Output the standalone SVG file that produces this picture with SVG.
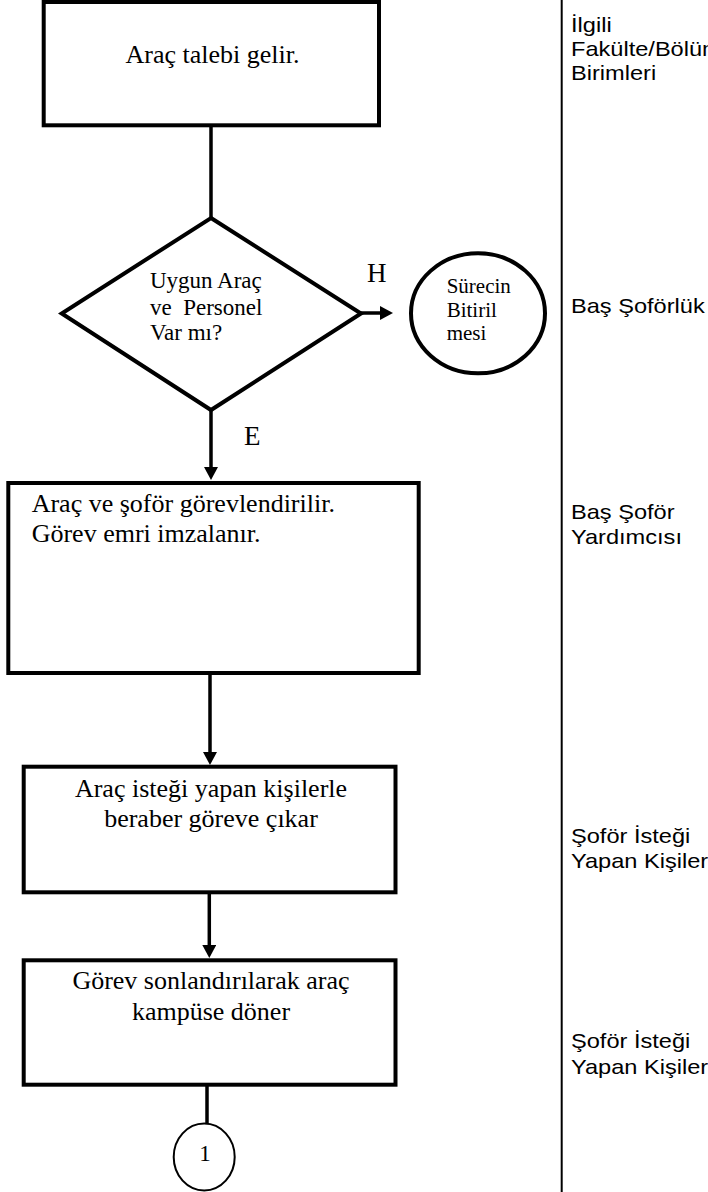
<svg xmlns="http://www.w3.org/2000/svg" width="708" height="1192" viewBox="0 0 708 1192">
  <style>
    .box { fill: #fff; stroke: #000; stroke-width: 4; }
    .thin { fill: #fff; stroke: #000; stroke-width: 2; }
    .conn { fill: none; stroke: #000; stroke-width: 3.5; }
    .serif { font-family: "Liberation Serif", "Times New Roman", serif; fill: #000; }
    .sans { font-family: "Liberation Sans", Arial, sans-serif; font-size: 20px; fill: #000; }
    .t26 { font-size: 26px; }
    .t23 { font-size: 23px; }
    .t21 { font-size: 21px; }
    .t27 { font-size: 27px; }
    .mid { text-anchor: middle; }
  </style>
  <defs>
    <marker id="arrow" markerUnits="userSpaceOnUse" markerWidth="14" markerHeight="14" refX="0" refY="7" orient="auto">
      <path d="M0,0 L13,7 L0,14 Z" fill="#000"/>
    </marker>
  </defs>
  <rect width="708" height="1192" fill="#fff"/>

  <!-- lane divider -->
  <g id="divider">
    <line x1="561.7" y1="0" x2="561.7" y2="1192" stroke="#000" stroke-width="2"/>
  </g>

  <!-- connectors -->
  <g id="connectors">
    <line class="conn" x1="211" y1="126" x2="211" y2="218"/>
    <line class="conn" x1="361" y1="313" x2="380" y2="313" marker-end="url(#arrow)"/>
    <line class="conn" x1="211" y1="410" x2="211" y2="467" marker-end="url(#arrow)"/>
    <line class="conn" x1="210" y1="675" x2="210" y2="752" marker-end="url(#arrow)"/>
    <line class="conn" x1="209.3" y1="894" x2="209.3" y2="945" marker-end="url(#arrow)"/>
    <line class="conn" x1="207" y1="1086" x2="207" y2="1123"/>
  </g>

  <g id="n-talep">
    <rect class="box" x="43.7" y="2" width="335.3" height="123.3"/>
    <text class="serif t26 mid" x="212.5" y="63">Araç talebi gelir.</text>
  </g>

  <g id="n-karar">
    <polygon class="box" points="211,218 361,313.5 211,410 61.7,313.5"/>
    <text class="serif t23" x="150" y="288.3" xml:space="preserve">Uygun Araç</text>
    <text class="serif t23" x="150" y="315" xml:space="preserve">ve  Personel</text>
    <text class="serif t23" x="150" y="340">Var mı?</text>
  </g>

  <g id="lbl-h">
    <text class="serif t27" x="367" y="281.7">H</text>
  </g>
  <g id="lbl-e">
    <text class="serif t27" x="244" y="445">E</text>
  </g>

  <g id="n-bitir">
    <ellipse class="box" cx="478" cy="313.3" rx="67" ry="60"/>
    <text class="serif t21" x="446.7" y="293.3">Sürecin</text>
    <text class="serif t21" x="446.7" y="316.7">Bitiril</text>
    <text class="serif t21" x="446.7" y="340">mesi</text>
  </g>

  <g id="n-gorevlendir">
    <rect class="box" x="8.3" y="483" width="410.4" height="190"/>
    <text class="serif t26" x="31.7" y="511.7">Araç ve şoför görevlendirilir.</text>
    <text class="serif t26" x="31.7" y="541.7">Görev emri imzalanır.</text>
  </g>

  <g id="n-goreve-cikar">
    <rect class="box" x="23.7" y="766.7" width="371.8" height="125.6"/>
    <text class="serif t26 mid" x="211" y="796.7">Araç isteği yapan kişilerle</text>
    <text class="serif t26 mid" x="211" y="827.3">beraber göreve çıkar</text>
  </g>

  <g id="n-donus">
    <rect class="box" x="23.7" y="960.3" width="371.8" height="124.4"/>
    <text class="serif t26 mid" x="211" y="989.3">Görev sonlandırılarak araç</text>
    <text class="serif t26 mid" x="211" y="1020">kampüse döner</text>
  </g>

  <g id="n-baglanti-1">
    <ellipse class="thin" cx="204.2" cy="1157" rx="30.5" ry="33.5"/>
    <text class="serif t23 mid" x="205" y="1161">1</text>
  </g>

  <!-- responsible-unit labels -->
  <g id="lane-labels">
    <text class="sans" transform="translate(571 32) scale(1.18 1)"><tspan x="0" y="0">İlgili</tspan><tspan x="0" y="24">Fakülte/Bölüm</tspan><tspan x="0" y="48">Birimleri</tspan></text>
    <text class="sans" transform="translate(571 313) scale(1.18 1)">Baş Şoförlük</text>
    <text class="sans" transform="translate(571 519) scale(1.18 1)"><tspan x="0" y="0">Baş Şoför</tspan><tspan x="0" y="25">Yardımcısı</tspan></text>
    <text class="sans" transform="translate(571 843) scale(1.18 1)"><tspan x="0" y="0">Şoför İsteği</tspan><tspan x="0" y="25.5">Yapan Kişiler</tspan></text>
    <text class="sans" transform="translate(571 1048) scale(1.18 1)"><tspan x="0" y="0">Şoför İsteği</tspan><tspan x="0" y="26">Yapan Kişiler</tspan></text>
  </g>
</svg>
